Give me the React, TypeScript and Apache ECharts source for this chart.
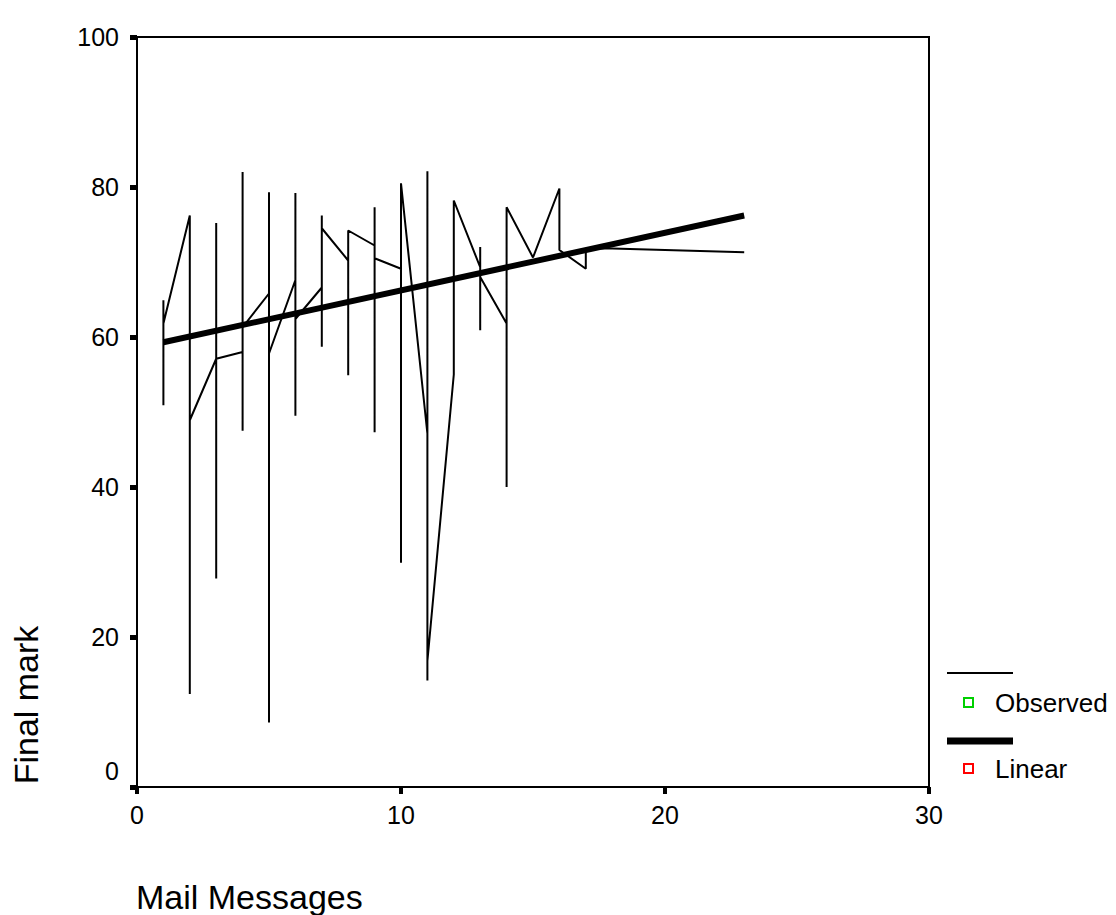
import React, { useEffect, useRef } from "react";
import * as echarts from "echarts";

// Observed path: cases sorted by number of mail messages, joined in order
const obsX = [
  1, 1, 1,
  2, 2, 2,
  3, 3, 3, 3,
  4, 4, 4, 4,
  5, 5, 5, 5,
  6, 6, 6, 6,
  7, 7, 7, 7,
  8, 8, 8,
  9, 9, 9, 9,
  10, 10, 10,
  11, 11, 11, 11,
  12, 12,
  13, 13, 13, 13,
  14, 14, 14,
  15,
  16, 16,
  17, 17,
  18,
  23,
];
const obsY = [
  64.9, 50.9, 61.8,
  76.2, 12.4, 48.9,
  57.1, 75.2, 27.8, 57.1,
  58.0, 82.0, 47.5, 61.3,
  65.8, 79.3, 8.6, 57.8,
  67.6, 79.2, 49.5, 62.4,
  66.6, 58.7, 76.2, 74.5,
  70.2, 54.9, 74.2,
  72.2, 47.3, 77.3, 70.5,
  69.1, 29.9, 80.5,
  47.1, 14.2, 82.1, 16.8,
  55.0, 78.2,
  69.3, 60.9, 72.0, 68.0,
  61.8, 40.0, 77.3,
  70.6,
  79.8, 71.6,
  69.1, 71.8,
  71.8,
  71.3,
];

// Fitted linear model, evaluated at the ends of the observed range
const linearX = [1, 23];
const linearY = [59.3, 76.2];

const xTicks = [0, 10, 20, 30];
const yTicks = [0, 20, 40, 60, 80, 100];

const legendNames = ["Observed", "Linear"];
const legendMarkerColors = ["#00d000", "#ff0000"];

const FONT = "'Liberation Sans', Arial, sans-serif";

export default function App() {
  const ref = useRef<HTMLDivElement>(null);

  useEffect(() => {
    if (!ref.current) return;
    const chart = echarts.init(ref.current, undefined, { renderer: "svg" });

    const observed = obsX.map((x, i) => [x, obsY[i]]);
    const linear = linearX.map((x, i) => [x, linearY[i]]);

    const labelStyle = { color: "#000", fontFamily: FONT, fontSize: 25 };

    chart.setOption({
      animation: false,
      backgroundColor: "#fff",
      grid: {
        left: 137,
        top: 37,
        right: 187,
        bottom: 128,
        show: true,
        borderColor: "#000",
        borderWidth: 2,
        backgroundColor: "transparent",
      },
      xAxis: {
        type: "value",
        min: xTicks[0],
        max: xTicks[xTicks.length - 1],
        interval: xTicks[1] - xTicks[0],
        axisLine: { show: true, onZero: false, lineStyle: { color: "#000", width: 2 } },
        axisTick: { show: true, length: 7, lineStyle: { color: "#000", width: 4 } },
        axisLabel: { ...labelStyle, margin: 15 },
        splitLine: { show: false },
      },
      yAxis: {
        type: "value",
        min: yTicks[0],
        max: yTicks[yTicks.length - 1],
        interval: yTicks[1] - yTicks[0],
        axisLine: { show: true, onZero: false, lineStyle: { color: "#000", width: 2 } },
        axisTick: { show: true, length: 7, lineStyle: { color: "#000", width: 5 } },
        axisLabel: {
          ...labelStyle,
          margin: 18,
          formatter: (v: number) => (v === 0 ? "{lift|0}" : String(v)),
          rich: {
            lift: { ...labelStyle, padding: [0, 0, 32, 0] },
          },
        },
        splitLine: { show: false },
      },
      series: [
        {
          name: legendNames[0],
          type: "line",
          data: observed,
          symbol: "none",
          lineStyle: { color: "#000", width: 2 },
          z: 2,
        },
        {
          name: legendNames[1],
          type: "line",
          data: linear,
          symbol: "none",
          lineStyle: { color: "#000", width: 6 },
          z: 3,
        },
      ],
      graphic: [
        {
          type: "text",
          left: 136,
          top: 880,
          style: { text: "Mail Messages", fill: "#000", font: `34px ${FONT}` },
        },
        {
          type: "text",
          x: 26,
          y: 705,
          rotation: Math.PI / 2,
          style: {
            text: "Final mark",
            fill: "#000",
            font: `34px ${FONT}`,
            align: "center",
            verticalAlign: "middle",
          },
        },
        // legend: thin line for Observed
        {
          type: "line",
          shape: { x1: 947, y1: 673, x2: 1013, y2: 673 },
          style: { stroke: "#000", lineWidth: 2 },
        },
        {
          type: "rect",
          shape: { x: 964, y: 698, width: 9, height: 9 },
          style: { fill: "#fff", stroke: legendMarkerColors[0], lineWidth: 2 },
        },
        {
          type: "text",
          x: 995,
          y: 703,
          style: {
            text: legendNames[0],
            fill: "#000",
            font: `26px ${FONT}`,
            verticalAlign: "middle",
          },
        },
        // legend: thick line for Linear
        {
          type: "line",
          shape: { x1: 947, y1: 741, x2: 1013, y2: 741 },
          style: { stroke: "#000", lineWidth: 7 },
        },
        {
          type: "rect",
          shape: { x: 964, y: 764, width: 9, height: 9 },
          style: { fill: "#fff", stroke: legendMarkerColors[1], lineWidth: 2 },
        },
        {
          type: "text",
          x: 995,
          y: 769,
          style: {
            text: legendNames[1],
            fill: "#000",
            font: `26px ${FONT}`,
            verticalAlign: "middle",
          },
        },
      ],
    });

    return () => chart.dispose();
  }, []);

  return (
    <div
      ref={ref}
      style={{ position: "fixed", left: 0, top: 0, width: 1116, height: 915, background: "#fff" }}
    />
  );
}
